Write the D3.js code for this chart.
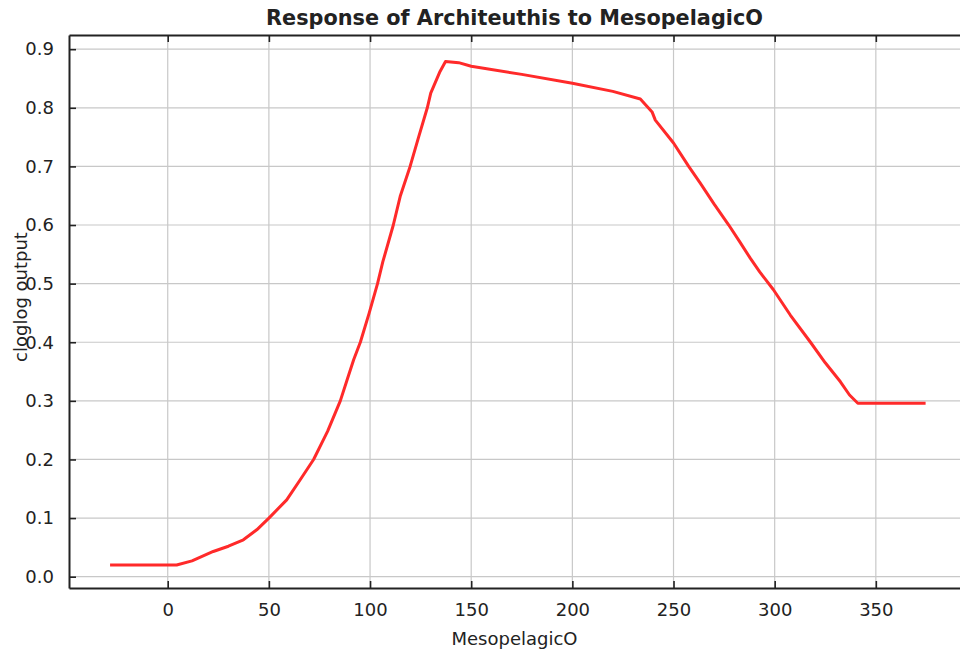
<!DOCTYPE html>
<html>
<head>
<meta charset="utf-8">
<script src="https://cdn.jsdelivr.net/npm/d3@7"></script>
<style>
  html, body { margin: 0; padding: 0; background: #ffffff; }
  svg { display: block; }
  text { font-family: "DejaVu Sans", sans-serif; fill: #222; }
</style>
</head>
<body>
<svg id="chart" width="960" height="653"></svg>
<script>
// ---- data ----
const titleText = "Response of Architeuthis to MesopelagicO";
const xLabel = "MesopelagicO";
const yLabel = "cloglog output";
const xTicks = [0, 50, 100, 150, 200, 250, 300, 350];
const yTicks = [0.0, 0.1, 0.2, 0.3, 0.4, 0.5, 0.6, 0.7, 0.8, 0.9];
const xDomain = [-48.8, 391.6];
const yDomain = [-0.0193, 0.9242];
const curveX = [-28.5, 4.4, 12, 22.5, 30, 37.4, 44, 50, 58.8, 65.4, 72.1, 79, 85.3, 88.6, 91.9, 95.2, 99.6, 103.7, 106.3, 111.5, 115, 119.8, 124, 128.3, 130, 134.6, 137.3, 143.8, 150, 175, 200, 220, 233.6, 239.4, 241, 250, 257.5, 263.3, 270, 277.3, 283, 288, 292.6, 299.3, 307.8, 317.7, 325, 332.5, 337, 341.1, 374.6];
const curveY = [0.02, 0.02, 0.027, 0.043, 0.052, 0.063, 0.08, 0.1, 0.131, 0.165, 0.2, 0.248, 0.3, 0.335, 0.37, 0.4, 0.45, 0.5, 0.537, 0.6, 0.65, 0.7, 0.75, 0.8, 0.825, 0.862, 0.879, 0.877, 0.871, 0.857, 0.842, 0.828, 0.815, 0.793, 0.779, 0.74, 0.7, 0.671, 0.636, 0.6, 0.57, 0.543, 0.52, 0.49, 0.446, 0.4, 0.365, 0.3325, 0.31, 0.296, 0.296];

// ---- layout ----
const plot = { left: 69, right: 960, top: 35, bottom: 588 };
const fontFam = "'DejaVu Sans', sans-serif";
const svg = d3.select("#chart");

const x = d3.scaleLinear().domain(xDomain).range([plot.left, plot.right]);
const y = d3.scaleLinear().domain(yDomain).range([plot.bottom, plot.top]);

// grid
const grid = svg.append("g");
grid.selectAll("line.gx").data(xTicks).enter().append("line")
  .attr("x1", d => x(d)).attr("x2", d => x(d))
  .attr("y1", plot.top).attr("y2", plot.bottom)
  .attr("stroke", "#c8c8c8").attr("stroke-width", 1.2);
grid.selectAll("line.gy").data(yTicks).enter().append("line")
  .attr("x1", plot.left).attr("x2", plot.right)
  .attr("y1", d => y(d)).attr("y2", d => y(d))
  .attr("stroke", "#c8c8c8").attr("stroke-width", 1.2);

// curve
const pts = curveX.map((v, i) => [v, curveY[i]]);
svg.append("path")
  .datum(pts)
  .attr("fill", "none")
  .attr("stroke", "#ff2a2a")
  .attr("stroke-width", 3)
  .attr("stroke-linejoin", "round")
  .attr("stroke-linecap", "butt")
  .attr("d", d3.line().x(d => x(d[0])).y(d => y(d[1])));

// axes (ticks pointing inward)
const tickLen = 7;
const axisStyle = g => {
  g.select(".domain").attr("stroke", "#222").attr("stroke-width", 2);
  g.selectAll(".tick line").attr("stroke", "#222").attr("stroke-width", 1.6);
  g.selectAll(".tick text").attr("font-size", 18).attr("fill", "#222")
    .attr("font-family", fontFam);
};

const xAxis = svg.append("g")
  .attr("transform", `translate(0,${plot.bottom})`)
  .call(d3.axisBottom(x).tickValues(xTicks).tickFormat(d3.format("d"))
        .tickSizeInner(-tickLen).tickSizeOuter(0).tickPadding(15));
axisStyle(xAxis);

const xAxisTop = svg.append("g")
  .attr("transform", `translate(0,${plot.top})`)
  .call(d3.axisTop(x).tickValues(xTicks).tickFormat("")
        .tickSizeInner(-tickLen).tickSizeOuter(0));
axisStyle(xAxisTop);

const yAxis = svg.append("g")
  .attr("transform", `translate(${plot.left},0)`)
  .call(d3.axisLeft(y).tickValues(yTicks).tickFormat(d3.format(".1f"))
        .tickSizeInner(-tickLen).tickSizeOuter(0).tickPadding(15));
axisStyle(yAxis);

// title
svg.append("text")
  .attr("x", (plot.left + plot.right) / 2).attr("y", 25)
  .attr("text-anchor", "middle")
  .attr("font-size", 20.8).attr("font-weight", "bold")
  .attr("fill", "#111")
  .text(titleText);

// axis labels
svg.append("text")
  .attr("x", (plot.left + plot.right) / 2).attr("y", 645)
  .attr("text-anchor", "middle")
  .attr("font-size", 18)
  .text(xLabel);

svg.append("text")
  .attr("transform", `translate(27,${297}) rotate(-90)`)
  .attr("text-anchor", "middle")
  .attr("font-size", 18)
  .text(yLabel);
</script>
</body>
</html>
